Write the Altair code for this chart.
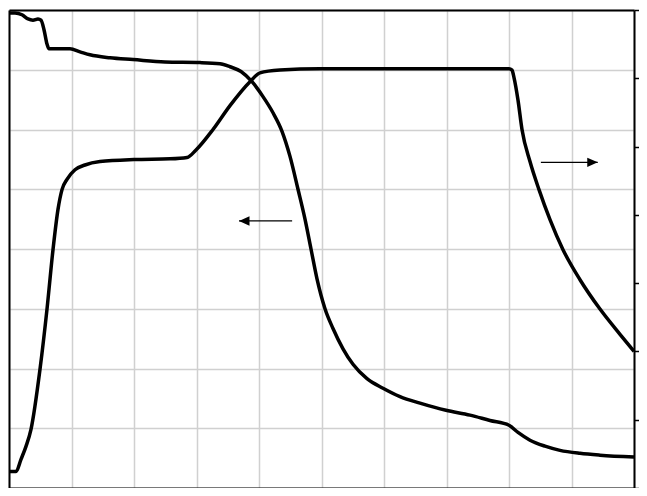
import altair as alt
import pandas as pd

# Curve falling (read on the left axis, 0..8)
c1_x = [0, 0.096, 0.208, 0.304, 0.384, 0.464, 0.512, 0.56, 0.608, 0.64, 0.816, 0.976,
        1.136, 1.296, 1.616, 1.984, 2.496, 3.056, 3.376, 3.536, 3.712, 3.888, 4.064,
        4.224, 4.368, 4.496, 4.624, 4.736, 4.832, 4.928, 5.056, 5.184, 5.344, 5.504,
        5.728, 5.984, 6.256, 6.576, 6.992, 7.376, 7.696, 8.0, 8.144, 8.336, 8.576,
        8.816, 9.136, 9.456, 10.0]
c1_y = [7.95, 7.95, 7.92, 7.85, 7.83, 7.85, 7.83, 7.67, 7.43, 7.35, 7.35, 7.35,
        7.30, 7.25, 7.20, 7.17, 7.13, 7.12, 7.10, 7.05, 6.97, 6.80, 6.55,
        6.28, 5.97, 5.55, 5.00, 4.50, 4.00, 3.50, 3.00, 2.67, 2.33, 2.07,
        1.83, 1.67, 1.53, 1.42, 1.30, 1.22, 1.13, 1.05, 0.93, 0.80, 0.70,
        0.63, 0.58, 0.55, 0.52]

# Curve rising (read on the right axis, 0..7)
c2_x = [0, 0.112, 0.192, 0.272, 0.352, 0.496, 0.608, 0.704, 0.784, 0.848, 0.928,
        1.056, 1.216, 1.456, 2.0, 2.576, 2.848, 2.992, 3.264, 3.536, 3.856, 4.016,
        4.336, 4.976, 6.256, 8.0, 8.048, 8.08, 8.144, 8.208, 8.336, 8.48, 8.656,
        8.864, 9.136, 9.456, 9.776, 10.0]
c2_y = [0.24, 0.24, 0.42, 0.61, 0.86, 1.74, 2.62, 3.49, 4.08, 4.37, 4.52,
        4.66, 4.73, 4.78, 4.81, 4.82, 4.84, 4.95, 5.25, 5.60, 5.95, 6.08,
        6.12, 6.14, 6.14, 6.14, 6.12, 6.01, 5.68, 5.25, 4.78, 4.37, 3.93,
        3.49, 3.05, 2.62, 2.25, 2.00]

# Arrows (left-axis units)
arrow_start = [4.53, 8.51]
arrow_end = [3.68, 9.42]
arrow_y = [4.47, 5.45]
arrow_dir = ["left", "right"]

x_ticks = list(range(11))
left_ticks = list(range(9))
right_ticks = list(range(8))

df1 = pd.DataFrame({"x": c1_x, "y": c1_y})
df2 = pd.DataFrame({"x": c2_x, "y": c2_y})
dfa = pd.DataFrame({"x": arrow_start, "x2": arrow_end, "y": arrow_y, "dir": arrow_dir})

xs = alt.Scale(domain=[0, 10], nice=False, zero=False)
ys1 = alt.Scale(domain=[0, 8], nice=False, zero=False)
ys2 = alt.Scale(domain=[0, 7], nice=False, zero=False)

grid_axis_x = alt.Axis(values=x_ticks, grid=True, gridColor="#d0d0d0", gridWidth=1.5,
                       labels=False, ticks=False, domain=True, domainColor="black",
                       domainWidth=2, title=None)
top_axis_x = alt.Axis(orient="top", values=x_ticks, grid=False, labels=False, ticks=False,
                      domain=True, domainColor="black", domainWidth=2, title=None)
grid_axis_y = alt.Axis(values=left_ticks, grid=True, gridColor="#d0d0d0", gridWidth=1.5,
                       labels=False, ticks=False, domain=True, domainColor="black",
                       domainWidth=2, title=None)

line1 = alt.Chart(df1).mark_line(color="black", strokeWidth=3.5, interpolate="monotone",
                                 strokeJoin="round").encode(
    x=alt.X("x:Q", scale=xs, axis=grid_axis_x),
    y=alt.Y("y:Q", scale=ys1, axis=grid_axis_y),
)

rules = alt.Chart(dfa).mark_rule(color="black", strokeWidth=1.3).encode(
    x=alt.X("x:Q", scale=xs),
    x2="x2:Q",
    y=alt.Y("y:Q", scale=ys1),
)

head_left = alt.Chart(dfa[dfa["dir"] == "left"]).mark_point(
    shape="M0,0L2,-0.9L2,0.9Z", filled=True, color="black", opacity=1, size=110, strokeWidth=0
).encode(x=alt.X("x2:Q", scale=xs), y=alt.Y("y:Q", scale=ys1))

head_right = alt.Chart(dfa[dfa["dir"] == "right"]).mark_point(
    shape="M0,0L-2,-0.9L-2,0.9Z", filled=True, color="black", opacity=1, size=110, strokeWidth=0
).encode(x=alt.X("x2:Q", scale=xs), y=alt.Y("y:Q", scale=ys1))

layer_a = alt.layer(line1, rules, head_left, head_right)

line2 = alt.Chart(df2).mark_line(color="black", strokeWidth=3.5, interpolate="monotone",
                                 strokeJoin="round").encode(
    x=alt.X("x:Q", scale=xs, axis=top_axis_x),
    y=alt.Y("y:Q", scale=ys2,
            axis=alt.Axis(orient="right", values=right_ticks, grid=False, labels=False,
                          ticks=True, tickSize=5, tickWidth=1.5, tickColor="black",
                          domain=True, domainColor="black", domainWidth=2, title=None)),
)

chart = alt.layer(layer_a, line2).resolve_scale(y="independent").resolve_axis(
    x="independent", y="independent"
).properties(
    width=625, height=478,
    padding={"left": 1, "top": 2, "right": 5, "bottom": 0},
    autosize=alt.AutoSizeParams(type="none"),
).configure_view(stroke=None).configure(background="white")

chart.save("out.html", embed_options={"renderer": "svg", "actions": False})
